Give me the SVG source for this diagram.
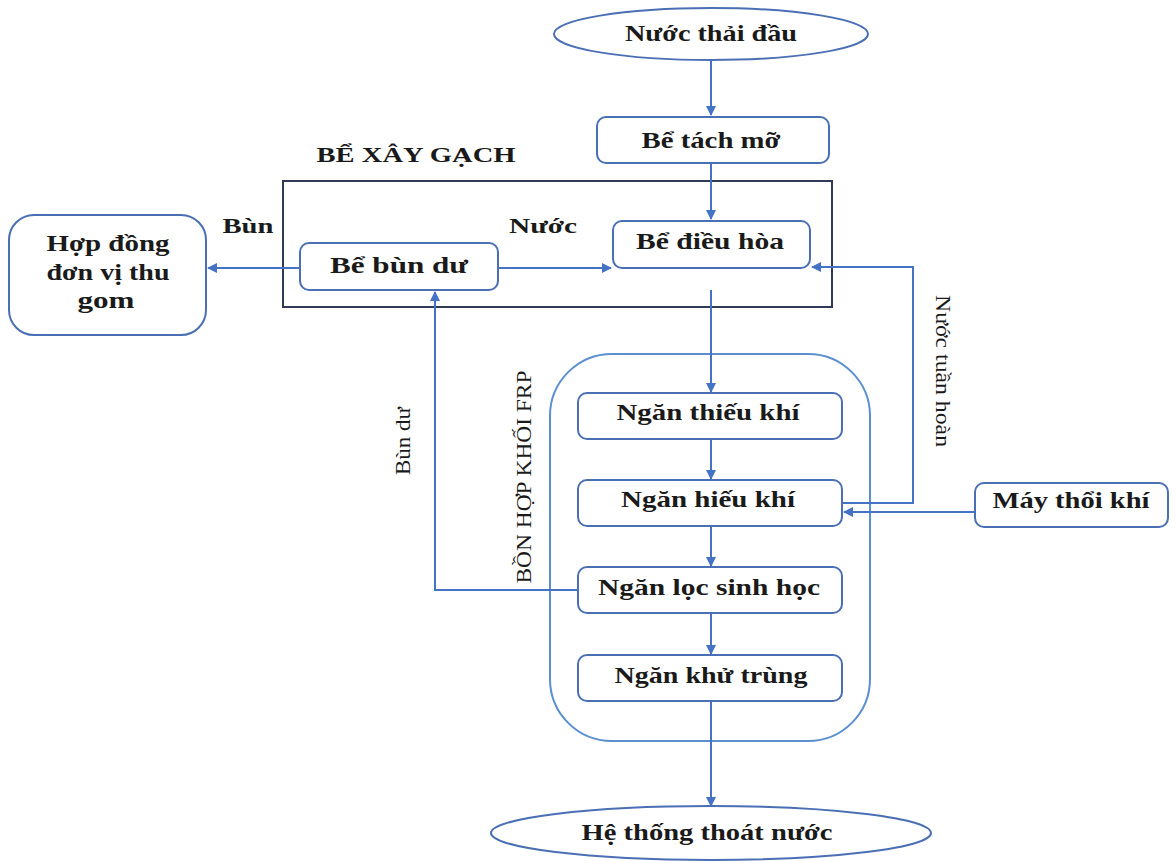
<svg xmlns="http://www.w3.org/2000/svg" width="1176" height="861" viewBox="0 0 1176 861">
<defs>
<marker id="ah" markerWidth="10" markerHeight="10" refX="9" refY="5" orient="auto" markerUnits="userSpaceOnUse">
<path d="M0,0 L10,5 L0,10 z" fill="#4472c4"/>
</marker>
<style>
.node{fill:#fff;stroke:#4a6fb5;stroke-width:2}
.t{font-family:"Liberation Serif","Times New Roman",serif;font-size:23px;font-weight:bold;fill:#1a1a1a;text-anchor:middle}
.l{font-family:"Liberation Serif","Times New Roman",serif;font-size:21px;fill:#1a1a1a;text-anchor:middle}
.b{font-weight:bold}
.c{fill:none;stroke:#4472c4;stroke-width:2}
</style>
</defs>
<rect width="1176" height="861" fill="#fff"/>
<g id="brick">
<rect x="283" y="181" width="549" height="126" fill="none" stroke="#2f3b55" stroke-width="2"/>
<text class="l b" x="416" y="162" textLength="199" lengthAdjust="spacingAndGlyphs">BỂ XÂY GẠCH</text>
</g>
<g id="frp">
<rect x="550" y="354" width="320" height="387" rx="62" fill="none" stroke="#5b8fd0" stroke-width="2"/>
<text class="l" transform="translate(531,477) rotate(-90)" textLength="213" lengthAdjust="spacingAndGlyphs">BỒN HỢP KHỐI FRP</text>
</g>
<g id="connectors">
<line class="c" x1="711" y1="60" x2="711" y2="115" marker-end="url(#ah)"/>
<line class="c" x1="711" y1="163" x2="711" y2="219" marker-end="url(#ah)"/>
<line class="c" x1="498" y1="268" x2="611" y2="268" marker-end="url(#ah)"/>
<line class="c" x1="300" y1="268" x2="208" y2="268" marker-end="url(#ah)"/>
<line class="c" x1="711" y1="290" x2="711" y2="392" marker-end="url(#ah)"/>
<line class="c" x1="711" y1="439" x2="711" y2="479" marker-end="url(#ah)"/>
<line class="c" x1="711" y1="526" x2="711" y2="566" marker-end="url(#ah)"/>
<line class="c" x1="711" y1="613" x2="711" y2="654" marker-end="url(#ah)"/>
<line class="c" x1="711" y1="701" x2="711" y2="806" marker-end="url(#ah)"/>
<polyline class="c" points="842,503 913,503 913,267 812,267" marker-end="url(#ah)"/>
<line class="c" x1="975" y1="512" x2="844" y2="512" marker-end="url(#ah)"/>
<polyline class="c" points="578,590 435,590 435,292" marker-end="url(#ah)"/>
<text class="l b" x="248" y="233" textLength="51" lengthAdjust="spacingAndGlyphs">Bùn</text>
<text class="l b" x="543" y="233" textLength="68" lengthAdjust="spacingAndGlyphs">Nước</text>
<text class="l" transform="translate(410,441) rotate(-90)" textLength="68" lengthAdjust="spacingAndGlyphs">Bùn dư</text>
<text class="l" transform="translate(936,371) rotate(90)" textLength="152" lengthAdjust="spacingAndGlyphs">Nước tuần hoàn</text>
</g>
<g id="n-nuocthai">
<ellipse cx="711" cy="34" rx="157" ry="26" class="node"/>
<text class="t" x="711" y="41" textLength="172" lengthAdjust="spacingAndGlyphs">Nước thải đầu</text>
</g>
<g id="n-tachmo">
<rect x="597" y="117" width="232" height="46" rx="9" class="node"/>
<text class="t" x="711" y="148" textLength="139" lengthAdjust="spacingAndGlyphs">Bể tách mỡ</text>
</g>
<g id="n-dieuhoa">
<rect x="613" y="221" width="197" height="47" rx="9" class="node"/>
<text class="t" x="710" y="249" textLength="148" lengthAdjust="spacingAndGlyphs">Bể điều hòa</text>
</g>
<g id="n-bundu">
<rect x="300" y="243" width="198" height="47" rx="9" class="node"/>
<text class="t" x="399" y="273" textLength="138" lengthAdjust="spacingAndGlyphs">Bể bùn dư</text>
</g>
<g id="n-hopdong">
<rect x="9" y="215" width="197" height="120" rx="25" class="node"/>
<text class="t" x="108" y="251" textLength="123" lengthAdjust="spacingAndGlyphs">Hợp đồng</text>
<text class="t" x="108" y="280" textLength="123" lengthAdjust="spacingAndGlyphs">đơn vị thu</text>
<text class="t" x="106" y="308" textLength="57" lengthAdjust="spacingAndGlyphs">gom</text>
</g>
<g id="n-thieukhi">
<rect x="578" y="393" width="264" height="46" rx="9" class="node"/>
<text class="t" x="708" y="420" textLength="183" lengthAdjust="spacingAndGlyphs">Ngăn thiếu khí</text>
</g>
<g id="n-hieukhi">
<rect x="578" y="480" width="264" height="46" rx="9" class="node"/>
<text class="t" x="708" y="507" textLength="174" lengthAdjust="spacingAndGlyphs">Ngăn hiếu khí</text>
</g>
<g id="n-loc">
<rect x="578" y="567" width="264" height="46" rx="9" class="node"/>
<text class="t" x="709" y="595" textLength="222" lengthAdjust="spacingAndGlyphs">Ngăn lọc sinh học</text>
</g>
<g id="n-khutrung">
<rect x="578" y="655" width="264" height="46" rx="9" class="node"/>
<text class="t" x="711" y="683" textLength="193" lengthAdjust="spacingAndGlyphs">Ngăn khử trùng</text>
</g>
<g id="n-maythoi">
<rect x="975" y="483" width="193" height="44" rx="9" class="node"/>
<text class="t" x="1071" y="508" textLength="157" lengthAdjust="spacingAndGlyphs">Máy thổi khí</text>
</g>
<g id="n-thoatnuoc">
<ellipse cx="711" cy="833" rx="220" ry="27" class="node"/>
<text class="t" x="707" y="840" textLength="251" lengthAdjust="spacingAndGlyphs">Hệ thống thoát nước</text>
</g>
</svg>
